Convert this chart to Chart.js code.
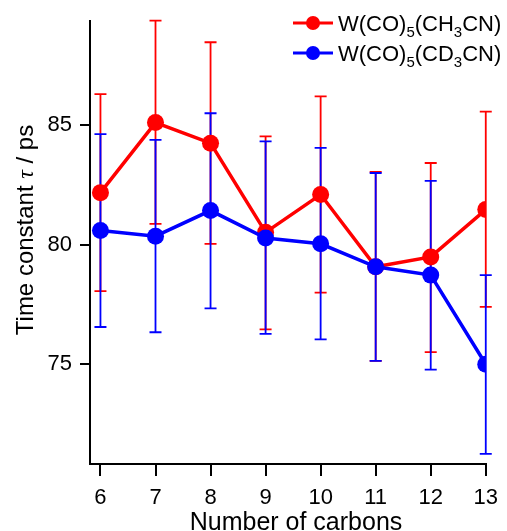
<!DOCTYPE html>
<html>
<head>
<meta charset="UTF-8">
<title>Time constant vs number of carbons</title>
<script src="https://cdn.jsdelivr.net/npm/chart.js"></script>
<style>
  html, body { margin: 0; padding: 0; background: #fff; }
</style>
</head>
<body>
<canvas id="grafico" width="507" height="531"></canvas>
<script>
  const carbons = [6, 7, 8, 9, 10, 11, 12, 13];
  const yTicks = [75, 80, 85];

  // W(CO)5(CH3CN)
  const tauH = [82.18, 85.11, 84.25, 80.52, 82.10, 79.08, 79.49, 81.47];
  const tauHLow = [78.06, 80.87, 80.04, 76.46, 78.00, 75.14, 75.51, 77.40];
  const tauHHigh = [86.30, 89.37, 88.47, 84.53, 86.21, 83.05, 83.42, 85.57];

  // W(CO)5(CD3CN)
  const tauD = [80.60, 80.36, 81.43, 80.28, 80.04, 79.08, 78.73, 75.00];
  const tauDLow = [76.56, 76.34, 77.34, 76.27, 76.04, 75.14, 74.78, 71.25];
  const tauDHigh = [84.63, 84.39, 85.50, 84.32, 84.05, 83.00, 82.67, 78.73];

  const RED = '#ff0000';
  const BLUE = '#0000ff';
  const FONT = '"Liberation Sans", Arial, sans-serif';

  function pts(ys) {
    return carbons.map((c, i) => ({ x: c, y: ys[i] }));
  }

  // barras de error con las escalas de Chart.js
  const errorBars = {
    id: 'errorBars',
    beforeDatasetsDraw(chart) {
      const ctx = chart.ctx;
      const xs = chart.scales.x, ys = chart.scales.y;
      const sets = [[tauHLow, tauHHigh, RED], [tauDLow, tauDHigh, BLUE]];
      ctx.save();
      ctx.lineWidth = 1.8;
      sets.forEach(([lo, hi, col]) => {
        ctx.strokeStyle = col;
        carbons.forEach((c, i) => {
          const px = xs.getPixelForValue(c);
          const y1 = ys.getPixelForValue(lo[i]);
          const y2 = ys.getPixelForValue(hi[i]);
          ctx.beginPath();
          ctx.moveTo(px, y1); ctx.lineTo(px, y2);
          ctx.moveTo(px - 6, y1); ctx.lineTo(px + 6, y1);
          ctx.moveTo(px - 6, y2); ctx.lineTo(px + 6, y2);
          ctx.stroke();
        });
      });
      ctx.restore();
    }
  };

  function setFont(ctx, p, size) {
    if (p.sub) ctx.font = Math.round(size * 0.68) + 'px ' + FONT;
    else ctx.font = (p.italic ? 'italic ' : '') + size + 'px ' + (p.serif ? '"Liberation Serif", serif' : FONT);
  }

  function drawRich(ctx, x, y, parts, size) {
    parts.forEach(p => {
      setFont(ctx, p, size);
      ctx.fillText(p.t, x, p.sub ? y + size * 0.28 : y);
      x += ctx.measureText(p.t).width;
    });
    return x;
  }

  function richWidth(ctx, parts, size) {
    let w = 0;
    parts.forEach(p => {
      setFont(ctx, p, size);
      w += ctx.measureText(p.t).width;
    });
    return w;
  }

  const textos = {
    id: 'textos',
    afterDraw(chart) {
      const ctx = chart.ctx;
      ctx.save();
      ctx.fillStyle = '#000';
      ctx.textBaseline = 'alphabetic';

      // leyenda
      const legend = [
        { col: RED, y: 23, parts: [{ t: 'W(CO)' }, { t: '5', sub: true }, { t: '(CH' }, { t: '3', sub: true }, { t: 'CN)' }] },
        { col: BLUE, y: 53, parts: [{ t: 'W(CO)' }, { t: '5', sub: true }, { t: '(CD' }, { t: '3', sub: true }, { t: 'CN)' }] }
      ];
      legend.forEach(l => {
        ctx.strokeStyle = l.col;
        ctx.lineWidth = 3;
        ctx.beginPath();
        ctx.moveTo(293, l.y); ctx.lineTo(333, l.y);
        ctx.stroke();
        ctx.fillStyle = l.col;
        ctx.beginPath();
        ctx.arc(313, l.y, 7, 0, Math.PI * 2);
        ctx.fill();
        ctx.fillStyle = '#000';
        drawRich(ctx, 338, l.y + 8, l.parts, 22);
      });

      // titulo eje x
      ctx.font = '25px ' + FONT;
      ctx.textAlign = 'center';
      ctx.fillText('Number of carbons', 296, 530);

      // titulo eje y
      const yParts = [{ t: 'Time constant ' }, { t: 'τ', italic: true, serif: true }, { t: ' / ps' }];
      ctx.textAlign = 'left';
      const w = richWidth(ctx, yParts, 24);
      ctx.translate(33, 230);
      ctx.rotate(-Math.PI / 2);
      drawRich(ctx, -w / 2, 0, yParts, 24);
      ctx.restore();
    }
  };

  const tickFont = { family: FONT, size: 22 };

  new Chart(document.getElementById('grafico').getContext('2d'), {
    type: 'line',
    data: {
      datasets: [
        {
          label: 'W(CO)5(CH3CN)',
          data: pts(tauH),
          borderColor: RED,
          backgroundColor: RED,
          borderWidth: 3.5,
          pointRadius: 8.5,
          pointBorderWidth: 0,
          tension: 0,
          order: 2
        },
        {
          label: 'W(CO)5(CD3CN)',
          data: pts(tauD),
          borderColor: BLUE,
          backgroundColor: BLUE,
          borderWidth: 3.5,
          pointRadius: 8.5,
          pointBorderWidth: 0,
          tension: 0,
          order: 1
        }
      ]
    },
    options: {
      responsive: false,
      animation: false,
      layout: { padding: { top: 15, right: 15, left: 0, bottom: 0 } },
      plugins: { legend: { display: false }, tooltip: { enabled: false } },
      scales: {
        x: {
          type: 'linear',
          min: 5.81,
          max: 13,
          afterBuildTicks: s => { s.ticks = carbons.map(v => ({ value: v })); },
          afterFit: s => { s.height = 67; },
          grid: { display: true, drawOnChartArea: false, drawTicks: true, tickLength: 12, color: '#000', lineWidth: 2 },
          border: { display: true, color: '#000', width: 2 },
          ticks: { font: tickFont, color: '#000', padding: 9, maxRotation: 0 }
        },
        y: {
          min: 70.83,
          max: 89.35,
          afterBuildTicks: s => { s.ticks = yTicks.map(v => ({ value: v })); },
          afterFit: s => { s.width = 90; },
          grid: { display: true, drawOnChartArea: false, drawTicks: true, tickLength: 10, color: '#000', lineWidth: 2 },
          border: { display: true, color: '#000', width: 2 },
          ticks: { font: tickFont, color: '#000', padding: 8 }
        }
      }
    },
    plugins: [errorBars, textos]
  });
</script>
</body>
</html>
